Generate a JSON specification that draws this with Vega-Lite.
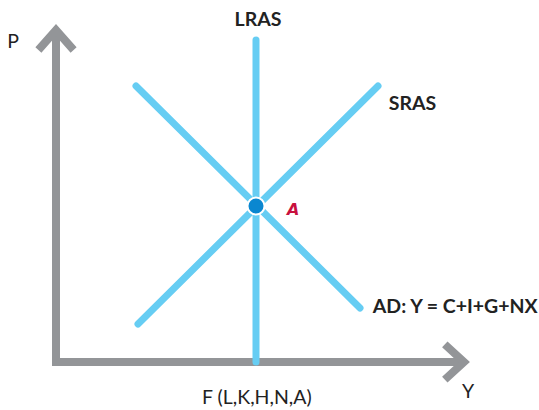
{
  "$schema": "https://vega.github.io/schema/vega-lite/v6.json",
  "width": 539,
  "height": 410,
  "padding": 0,
  "autosize": {"type": "none"},
  "background": "white",
  "config": {"view": {"stroke": null}},
  "encoding": {
    "x": {"type": "quantitative", "scale": {"domain": [-1.4, 12.075], "nice": false, "zero": false}, "axis": null},
    "y": {"type": "quantitative", "scale": {"domain": [-1.2, 9.05], "nice": false, "zero": false}, "axis": null}
  },
  "layer": [
    {
      "data": {"values": [
        {"part": "yaxis", "o": 1, "x": 0, "y": -0.1},
        {"part": "yaxis", "o": 2, "x": 0, "y": 8.3},
        {"part": "xaxis", "o": 1, "x": -0.1, "y": 0},
        {"part": "xaxis", "o": 2, "x": 10.2, "y": 0},
        {"part": "yhead", "o": 1, "x": -0.44, "y": 7.8},
        {"part": "yhead", "o": 2, "x": 0, "y": 8.3},
        {"part": "yhead", "o": 3, "x": 0.44, "y": 7.8},
        {"part": "xhead", "o": 1, "x": 9.72, "y": 0.44},
        {"part": "xhead", "o": 2, "x": 10.2, "y": 0},
        {"part": "xhead", "o": 3, "x": 9.72, "y": -0.44}
      ]},
      "mark": {"type": "line", "color": "#939598", "strokeWidth": 8, "strokeCap": "butt", "strokeJoin": "miter"},
      "encoding": {
        "x": {"field": "x"},
        "y": {"field": "y"},
        "detail": {"field": "part"},
        "order": {"field": "o"}
      }
    },
    {
      "data": {"values": [
        {"curve": "LRAS", "o": 1, "x": 5, "y": 0},
        {"curve": "LRAS", "o": 2, "x": 5, "y": 8.05},
        {"curve": "SRAS", "o": 1, "x": 2.05, "y": 0.95},
        {"curve": "SRAS", "o": 2, "x": 8.05, "y": 6.9},
        {"curve": "AD", "o": 1, "x": 2.0, "y": 6.9},
        {"curve": "AD", "o": 2, "x": 7.6, "y": 1.35}
      ]},
      "mark": {"type": "line", "color": "#66cdf3", "strokeWidth": 7, "strokeCap": "round"},
      "encoding": {
        "x": {"field": "x"},
        "y": {"field": "y"},
        "detail": {"field": "curve"},
        "order": {"field": "o"}
      }
    },
    {
      "data": {"values": [{"x": 5, "y": 3.9}]},
      "mark": {"type": "point", "filled": true, "fill": "#0a87d0", "stroke": "white", "strokeWidth": 2, "size": 290, "opacity": 1},
      "encoding": {"x": {"field": "x"}, "y": {"field": "y"}}
    },
    {
      "data": {"values": [
        {"label": "LRAS", "x": 5.05, "y": 8.55, "a": "center"},
        {"label": "SRAS", "x": 8.32, "y": 6.45, "a": "left"},
        {"label": "AD: Y = C+I+G+NX", "x": 7.92, "y": 1.37, "a": "left"}
      ]},
      "mark": {"type": "text", "font": "Lato", "fontWeight": "bold", "fontSize": 19.5, "color": "#222222", "baseline": "middle", "align": {"expr": "datum.a"}},
      "encoding": {"x": {"field": "x"}, "y": {"field": "y"}, "text": {"field": "label"}}
    },
    {
      "data": {"values": [
        {"label": "F (L,K,H,N,A)", "x": 5.02, "y": -0.9},
        {"label": "P", "x": -1.07, "y": 8.0},
        {"label": "Y", "x": 10.3, "y": -0.75}
      ]},
      "mark": {"type": "text", "font": "Lato", "fontSize": 19.5, "color": "#222222", "baseline": "middle", "align": "center"},
      "encoding": {"x": {"field": "x"}, "y": {"field": "y"}, "text": {"field": "label"}}
    },
    {
      "data": {"values": [{"label": "A", "x": 5.93, "y": 3.8}]},
      "mark": {"type": "text", "font": "DejaVu Sans", "fontStyle": "italic", "fontWeight": "bold", "fontSize": 16, "color": "#c8103e", "baseline": "middle", "align": "center"},
      "encoding": {"x": {"field": "x"}, "y": {"field": "y"}, "text": {"field": "label"}}
    }
  ]
}
